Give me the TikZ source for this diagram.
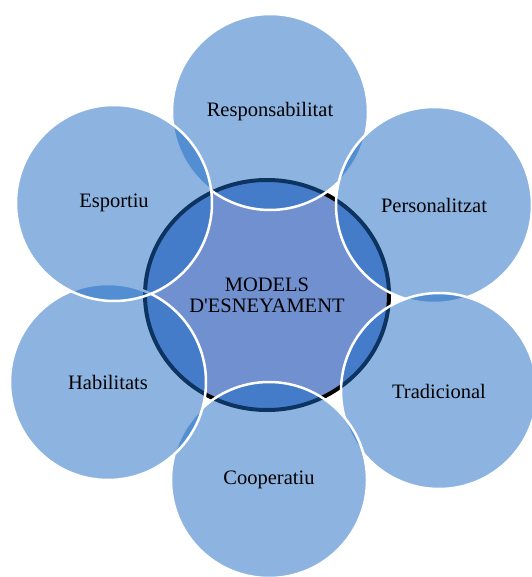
\documentclass[tikz,border=0pt]{standalone}
\usepackage{fontspec}
\setmainfont{Liberation Serif}[Ligatures=TeXOff]
\usetikzlibrary{shapes.geometric}

\definecolor{petal}{RGB}{27,105,195}
\definecolor{hubfill}{RGB}{112,144,208}
\definecolor{hubring}{RGB}{0,0,0}

\tikzset{
  hub/.style={ellipse, inner sep=0pt, minimum width=244pt, minimum height=230pt,
    fill=hubfill, draw=hubring, line width=4pt, align=center,
    font=\fontsize{20.5}{21}\selectfont},
  petalnode/.style={circle, inner sep=0pt, minimum size=196pt,
    fill=petal, fill opacity=0.5, draw=white, draw opacity=1, text opacity=1,
    line width=2.5pt, font=\fontsize{20.5}{21}\selectfont}
}

\begin{document}
\begin{tikzpicture}[x=1pt,y=-1pt]
  \useasboundingbox (0,0) rectangle (531,577);

  % central model
  \node[hub] (hub) at (267,295) {MODELS\\D'ESNEYAMENT};

  % surrounding models, drawn clockwise from the top
  \node[petalnode] (resp) at (270,112) {Responsabilitat};
  \node[petalnode] (pers) at (434,205) {Personalitzat};
  \node[petalnode] (trad) at (439,391) {Tradicional};
  \node[petalnode] (coop) at (269,480) {Cooperatiu};
  \node[petalnode] (habi) at (108,382) {Habilitats};
  \node[petalnode] (espo) at (114,203) {Esportiu};
\end{tikzpicture}
\end{document}
